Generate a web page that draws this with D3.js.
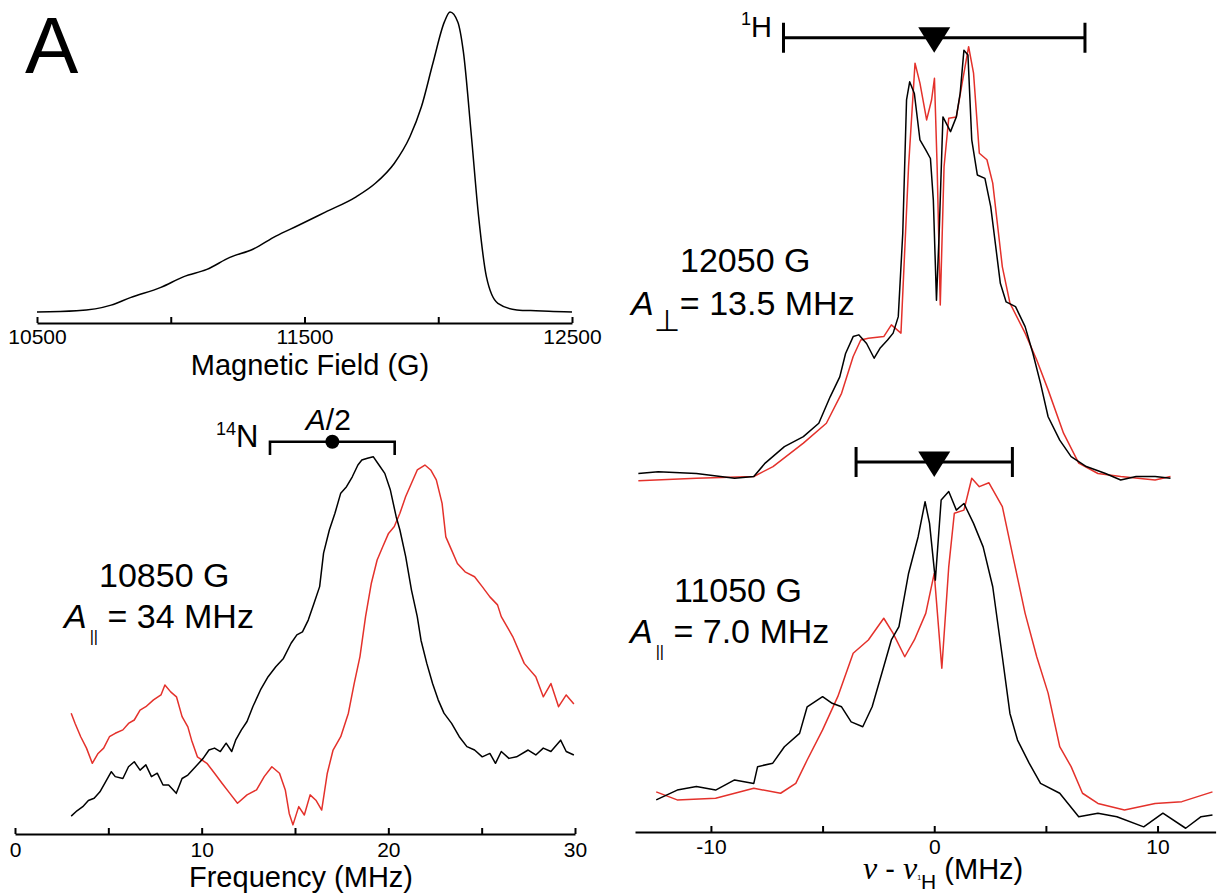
<!DOCTYPE html>
<html lang="en">
<head>
<meta charset="UTF-8">
<title>EPR / ENDOR panel A</title>
<style>
  body { margin: 0; background: #fff; }
  svg { display: block; background: #fff; }
</style>
</head>
<body>
<svg width="1220" height="896"></svg>
<script src="https://cdn.jsdelivr.net/npm/d3@7/dist/d3.min.js"></script>
<script>
// --- field-swept EPR (top left)
const fieldG   = [10500,10648,10777,10849,10963,11049,11135,11221,11307,11393,11478,11578,11693,11765,11836,11894,11937,11980,12023,12044,12073,12094,12123,12151,12180,12223,12294,12365,12430,12500];
const fieldAbs = [0,0.004,0.023,0.048,0.082,0.118,0.142,0.182,0.209,0.253,0.289,0.333,0.384,0.429,0.496,0.584,0.684,0.829,0.967,1.0,0.967,0.867,0.596,0.317,0.118,0.029,0.007,0.004,0.002,0];
const fieldTicks  = [10500,11000,11500,12000,12500];
const fieldLabels = [10500,11500,12500];

// --- 14N ENDOR at 10850 G (bottom left)
const nFreqBlack = [3.01,3.32,3.63,3.93,4.24,4.55,4.86,5.16,5.37,5.78,6.08,6.39,6.70,7.01,7.31,7.62,7.93,8.23,8.64,8.95,9.26,9.67,10.08,10.39,10.69,11.00,11.31,11.61,11.82,12.13,12.43,12.74,13.15,13.56,13.97,14.38,14.79,15.10,15.40,15.71,16.02,16.32,16.53,16.84,17.14,17.45,17.76,18.07,18.37,18.58,18.88,19.19,19.50,19.81,20.11,20.42,20.62,20.93,21.24,21.55,21.75,22.06,22.37,22.67,22.98,23.39,23.80,24.21,24.62,25.03,25.44,25.74,26.05,26.46,26.87,27.49,27.90,28.30,28.71,29.23,29.53,29.94];
const nIntBlack  = [0.047,0.061,0.072,0.088,0.094,0.111,0.138,0.164,0.151,0.146,0.177,0.190,0.168,0.182,0.151,0.160,0.129,0.129,0.107,0.146,0.155,0.177,0.199,0.221,0.226,0.217,0.239,0.217,0.247,0.274,0.296,0.335,0.379,0.414,0.440,0.462,0.502,0.524,0.532,0.563,0.607,0.651,0.739,0.800,0.844,0.897,0.914,0.940,0.971,0.984,0.989,0.993,0.971,0.949,0.905,0.835,0.800,0.730,0.642,0.572,0.510,0.449,0.396,0.353,0.318,0.291,0.256,0.230,0.221,0.203,0.212,0.186,0.217,0.199,0.203,0.221,0.208,0.226,0.217,0.247,0.217,0.208];
const nFreqRed   = [3.01,3.22,3.52,3.83,4.14,4.45,4.75,5.06,5.37,5.78,6.08,6.39,6.70,7.01,7.42,7.82,8.03,8.34,8.65,8.95,9.26,9.46,9.77,10.28,10.69,11.10,11.51,11.92,12.43,12.94,13.35,13.76,14.17,14.48,14.69,14.89,15.20,15.50,15.81,16.12,16.43,16.73,17.04,17.45,17.86,18.17,18.48,18.78,19.09,19.40,19.70,20.01,20.32,20.62,20.93,21.24,21.55,21.96,22.27,22.57,22.88,23.08,23.39,23.70,24.11,24.62,25.03,25.44,25.85,26.05,26.67,27.28,27.90,28.30,28.71,29.12,29.53,29.94];
const nIntRed    = [0.318,0.291,0.256,0.226,0.186,0.212,0.226,0.256,0.265,0.274,0.291,0.300,0.326,0.335,0.353,0.366,0.392,0.374,0.361,0.309,0.282,0.247,0.203,0.186,0.160,0.133,0.107,0.081,0.103,0.116,0.151,0.177,0.160,0.116,0.054,0.024,0.072,0.050,0.103,0.089,0.063,0.160,0.221,0.256,0.318,0.396,0.467,0.572,0.660,0.721,0.756,0.791,0.809,0.844,0.888,0.923,0.958,0.971,0.958,0.932,0.870,0.782,0.747,0.712,0.690,0.677,0.651,0.624,0.603,0.572,0.519,0.449,0.414,0.361,0.396,0.335,0.366,0.342];
const nTicks  = [0,5,10,15,20,25,30];
const nLabels = [0,10,20,30];
const nA = 34, nLarmor = 3.34;

// --- 1H ENDOR at 12050 G (top right)
const hiFreqBlack = [-13.25,-12.36,-10.65,-8.94,-8.08,-7.57,-6.71,-5.86,-5.17,-4.66,-4.23,-3.97,-3.63,-3.38,-3.03,-2.69,-2.43,-2.09,-1.84,-1.61,-1.41,-1.24,-1.10,-0.89,-0.64,-0.38,-0.17,-0.04,0.10,0.22,0.39,0.73,0.99,1.16,1.33,1.51,1.68,1.93,2.27,2.53,2.96,3.22,3.64,4.07,4.42,4.76,5.10,5.62,6.13,6.81,7.67,8.35,9.04,9.89,10.58];
const hiIntBlack  = [0.015,0.019,0.015,0.004,0.008,0.039,0.077,0.100,0.131,0.192,0.238,0.292,0.331,0.335,0.315,0.281,0.304,0.323,0.339,0.377,0.569,0.877,0.919,0.892,0.785,0.762,0.742,0.646,0.415,0.569,0.838,0.804,0.838,0.892,0.992,0.981,0.785,0.704,0.696,0.631,0.454,0.411,0.400,0.354,0.292,0.223,0.146,0.092,0.054,0.031,0.015,0.000,0.008,0.008,0.004];
const hiFreqRed   = [-13.25,-10.65,-8.08,-7.22,-5.86,-4.83,-4.15,-3.63,-3.29,-2.95,-2.26,-1.92,-1.49,-1.15,-0.86,-0.64,-0.34,-0.12,0.01,0.13,0.27,0.44,0.65,0.99,1.25,1.54,1.76,2.02,2.36,2.62,3.05,3.39,4.07,4.59,5.10,5.79,6.47,7.33,8.35,9.89,10.58];
const hiIntRed    = [-0.002,0.004,0.008,0.031,0.085,0.131,0.200,0.285,0.323,0.327,0.331,0.358,0.339,0.723,0.962,0.916,0.831,0.877,0.927,0.723,0.404,0.723,0.835,0.838,0.916,1.000,0.939,0.754,0.739,0.685,0.492,0.408,0.339,0.277,0.208,0.108,0.039,0.015,0.008,0.000,0.008];

// --- 1H ENDOR at 11050 G (bottom right)
const loFreqBlack = [-12.45,-11.51,-10.65,-9.79,-8.94,-8.08,-7.91,-7.23,-6.71,-6.03,-5.69,-5.00,-4.57,-4.15,-3.72,-3.20,-2.78,-2.26,-1.92,-1.58,-1.15,-0.72,-0.41,-0.21,0.05,0.31,0.65,0.99,1.33,1.76,2.19,2.62,3.05,3.39,3.73,4.25,4.76,5.62,6.47,7.33,8.18,9.38,10.24,11.26,11.95,12.46];
const loIntBlack  = [0.086,0.114,0.124,0.114,0.143,0.133,0.181,0.191,0.238,0.276,0.352,0.381,0.362,0.352,0.309,0.295,0.352,0.467,0.543,0.581,0.733,0.838,0.938,0.876,0.714,0.943,0.967,0.914,0.933,0.876,0.809,0.695,0.495,0.333,0.257,0.191,0.133,0.105,0.038,0.048,0.038,0.009,0.048,0.005,0.038,0.043];
const loFreqRed   = [-12.45,-11.51,-9.79,-8.08,-6.88,-6.20,-5.69,-5.00,-4.32,-3.63,-2.95,-2.26,-1.84,-1.32,-0.89,-0.38,0.00,0.34,0.65,0.90,1.33,1.68,2.02,2.45,3.05,3.56,4.07,4.59,5.10,5.62,6.13,6.64,7.33,8.52,9.89,11.09,12.46];
const loIntRed    = [0.109,0.086,0.091,0.119,0.105,0.133,0.200,0.286,0.381,0.505,0.543,0.605,0.562,0.495,0.543,0.619,0.733,0.462,0.752,0.905,0.914,1.005,0.981,0.992,0.924,0.771,0.619,0.495,0.391,0.238,0.181,0.105,0.076,0.057,0.076,0.081,0.109];
const hTicks  = [-10,-5,0,5,10];
const hLabels = [-10,0,10];
const hiA = 13.5, loA = 7.0;

const sans  = "'Liberation Sans', Arial, sans-serif";
const serif = "'Liberation Serif', 'Times New Roman', serif";
const red   = "#e4312b";

const svg = d3.select("svg");

// scales
const xField = d3.scaleLinear([10500, 12500], [37, 572]);
const yField = d3.scaleLinear([0, 1], [312, 12]);
const xN     = d3.scaleLinear([0, 30], [15, 575]);
const yN     = d3.scaleLinear([0, 1], [834, 454]);
const xH     = d3.scaleLinear([-13.4, 12.6], [635, 1215.6]);
const yHi    = d3.scaleLinear([0, 1], [480, 46.7]);
const yLo    = d3.scaleLinear([0, 1], [830, 480]);

function trace(xs, ys, x, y, color, curve) {
    const line = d3.line()
        .x(d => x(d[0]))
        .y(d => y(d[1]))
        .curve(curve || d3.curveLinear);
    svg.append("path")
        .datum(d3.zip(xs, ys))
        .attr("fill", "none")
        .attr("stroke", color)
        .attr("stroke-width", 1.5)
        .attr("stroke-linejoin", "round")
        .attr("d", line);
}

function axis(x, ty, ticks, labels, pad) {
    const g = svg.append("g")
        .attr("transform", `translate(0,${ty})`)
        .call(d3.axisBottom(x)
            .tickValues(ticks)
            .tickSizeInner(-6)
            .tickSizeOuter(0)
            .tickPadding(pad)
            .tickFormat(d => labels.includes(d) ? String(d) : ""));
    g.select(".domain").attr("stroke-width", 2.2);
    g.selectAll(".tick line").attr("stroke-width", 2);
    g.selectAll("text")
        .attr("font-family", sans)
        .attr("font-size", 21)
        .attr("fill", "#000");
    return g;
}

// ---- top left: field sweep
trace(fieldG, fieldAbs, xField, yField, "#000", d3.curveMonotoneX);
axis(xField, 323, fieldTicks, fieldLabels, 6);
svg.append("text")
    .attr("x", 310).attr("y", 375)
    .attr("text-anchor", "middle")
    .attr("font-family", sans).attr("font-size", 29)
    .text("Magnetic Field (G)");
svg.append("text")
    .attr("x", 25).attr("y", 73)
    .attr("font-family", sans).attr("font-size", 80)
    .text("A");

// ---- bottom left: 14N
trace(nFreqRed, nIntRed, xN, yN, red);
trace(nFreqBlack, nIntBlack, xN, yN, "#000");
axis(xN, 834, nTicks, nLabels, 8);
svg.append("text")
    .attr("x", 301).attr("y", 887)
    .attr("text-anchor", "middle")
    .attr("font-family", sans).attr("font-size", 29)
    .text("Frequency (MHz)");

// 14N bracket centred at A/2, spread 2*nu_N
svg.append("path")
    .attr("fill", "none").attr("stroke", "#000").attr("stroke-width", 2.6)
    .attr("d", `M${xN(nA / 2 - nLarmor)},455 V441.7 H${xN(nA / 2 + nLarmor)} V455`);
svg.append("circle")
    .attr("cx", xN(nA / 2)).attr("cy", 441.7).attr("r", 7);
const tN = svg.append("text").attr("font-family", sans).attr("x", 216).attr("y", 447);
tN.append("tspan").attr("font-size", 18).attr("dy", -12).text("14");
tN.append("tspan").attr("font-size", 31).attr("dy", 12).text("N");
const tA2 = svg.append("text").attr("font-family", sans).attr("font-size", 30)
    .attr("x", xN(nA / 2) - 4).attr("y", 430).attr("text-anchor", "middle");
tA2.append("tspan").attr("font-style", "italic").text("A");
tA2.append("tspan").text("/2");

svg.append("text").attr("font-family", sans).attr("font-size", 34)
    .attr("x", 99).attr("y", 587).text("10850 G");
const l2 = svg.append("text").attr("font-family", sans).attr("font-size", 34).attr("x", 64).attr("y", 628);
l2.append("tspan").attr("font-style", "italic").text("A");
l2.append("tspan").attr("font-size", 16).attr("dy", 13.6).attr("dx", 3).text("||");
l2.append("tspan").attr("dy", -13.6).text(` = ${nA} MHz`);

// ---- right: 1H
trace(hiFreqRed, hiIntRed, xH, yHi, red);
trace(hiFreqBlack, hiIntBlack, xH, yHi, "#000");
trace(loFreqRed, loIntRed, xH, yLo, red);
trace(loFreqBlack, loIntBlack, xH, yLo, "#000");
axis(xH, 832, hTicks, hLabels, 7);

function hBracket(A, ly) {
    const g = svg.append("g");
    g.append("path")
        .attr("fill", "none").attr("stroke", "#000").attr("stroke-width", 3)
        .attr("d", `M${xH(-A / 2)},${ly - 15} V${ly + 15} M${xH(-A / 2)},${ly} H${xH(A / 2)} M${xH(A / 2)},${ly - 15} V${ly + 15}`);
    const c = xH(0);
    g.append("path")
        .attr("fill", "#000")
        .attr("d", `M${c - 16},${ly - 10.5} L${c + 16},${ly - 10.5} L${c},${ly + 15} Z`);
}
hBracket(hiA, 37.7);
hBracket(loA, 462);

const tH = svg.append("text").attr("font-family", sans).attr("x", 741).attr("y", 37);
tH.append("tspan").attr("font-size", 18).attr("dy", -12).text("1");
tH.append("tspan").attr("font-size", 29).attr("dy", 12).text("H");

svg.append("text").attr("font-family", sans).attr("font-size", 34)
    .attr("x", 680).attr("y", 272).text("12050 G");
const r2 = svg.append("text").attr("font-family", sans).attr("font-size", 34).attr("x", 631).attr("y", 315);
r2.append("tspan").attr("font-style", "italic").text("A");
r2.append("tspan").attr("font-family", "'DejaVu Sans', sans-serif").attr("font-size", 30).attr("dy", 16).attr("dx", 0).text("\u22A5");
r2.append("tspan").attr("dy", -16).text(`= ${hiA.toFixed(1)} MHz`);

svg.append("text").attr("font-family", sans).attr("font-size", 34)
    .attr("x", 674).attr("y", 602).text("11050 G");
const r4 = svg.append("text").attr("font-family", sans).attr("font-size", 34).attr("x", 630).attr("y", 643);
r4.append("tspan").attr("font-style", "italic").text("A");
r4.append("tspan").attr("font-size", 16).attr("dy", 13.6).attr("dx", 3).text("||");
r4.append("tspan").attr("dy", -13.6).text(` = ${loA.toFixed(1)} MHz`);

// x title: nu - nu(1H)
const tx = svg.append("text").attr("font-family", sans).attr("font-size", 29).attr("x", 863).attr("y", 879);
tx.append("tspan").attr("font-family", serif).attr("font-style", "italic").attr("font-size", 32).text("\u03BD");
tx.append("tspan").text(" - ");
tx.append("tspan").attr("font-family", serif).attr("font-style", "italic").attr("font-size", 32).text("\u03BD");
tx.append("tspan").attr("font-size", 7).attr("dy", 1).text("1");
tx.append("tspan").attr("font-size", 21).attr("dy", 9).text("H");
tx.append("tspan").attr("dy", -10).text(" (MHz)");
</script>
</body>
</html>
